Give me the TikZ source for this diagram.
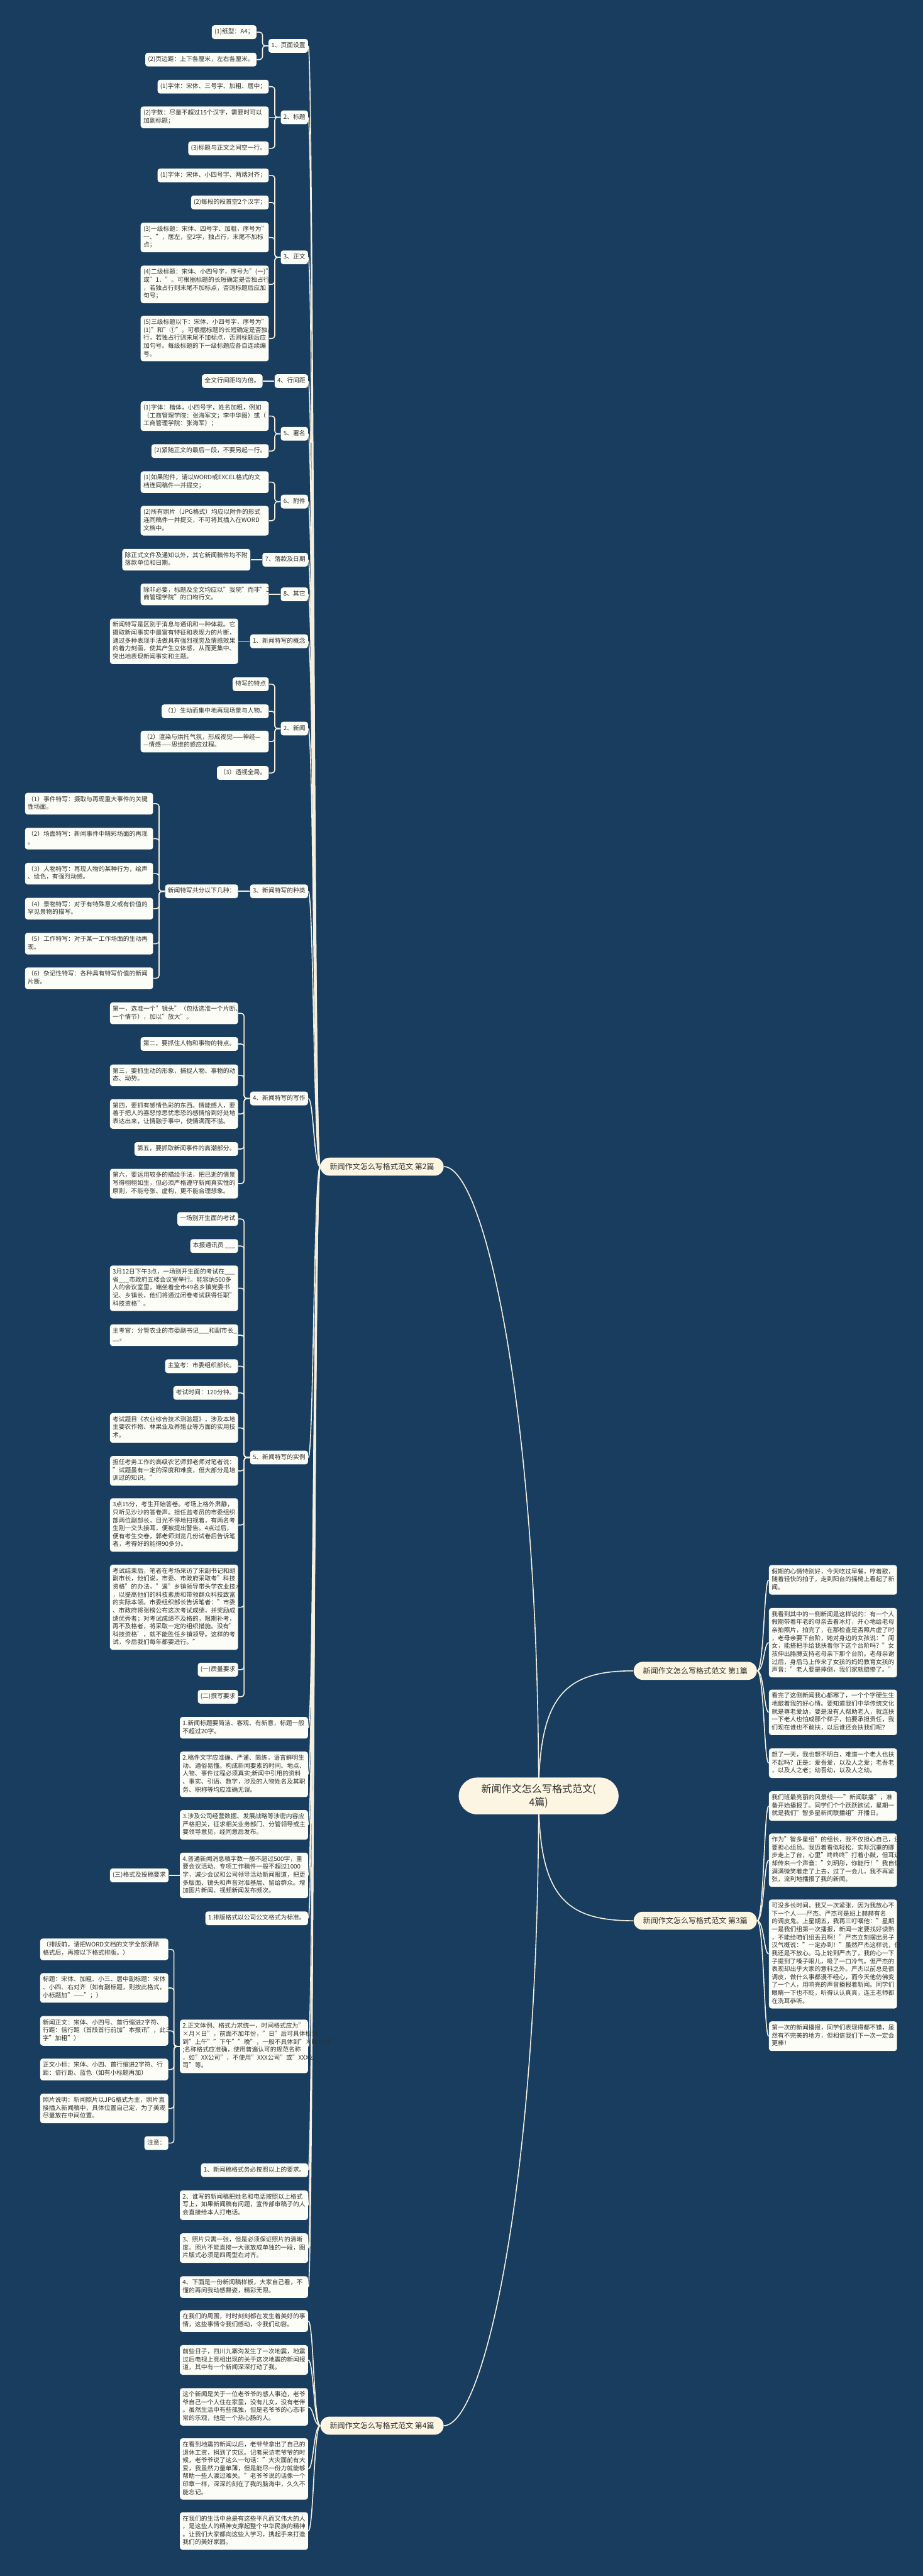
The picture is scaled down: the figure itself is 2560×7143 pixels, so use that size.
\documentclass[tikz,border=0pt]{standalone}
\usepackage{fontspec}
\setmainfont{Noto Sans CJK SC}
\usepackage{xcolor}
\usetikzlibrary{calc, positioning}
\pgfdeclarelayer{back}
\pgfdeclarelayer{bg}
\pgfsetlayers{back,bg,main}
\definecolor{deepnavy}{HTML}{183D5E}
\definecolor{cardfill}{HTML}{FDFDF7}
\definecolor{pillfill}{HTML}{FBF5E1}
\definecolor{wirecol}{HTML}{F4EFDF}
\definecolor{inkgray}{HTML}{2F2F2F}
\newcommand\leaffont{\fontsize{4.84pt}{6.26pt}\selectfont}
\newcommand\pillfont{\fontsize{5.98pt}{7.5pt}\selectfont}
\newcommand\rootfont{\fontsize{7.97pt}{10.2pt}\selectfont}
\setlength{\parindent}{0pt}

\begin{document}
\begin{tikzpicture}
  [x=0.01cm, y=-0.01cm,
   card/.style={fill=cardfill, text=inkgray, rounded corners=0.07cm, inner xsep=0.075cm, inner ysep=0.08cm, font=\leaffont, execute at begin node=\strut, execute at end node=\strut},
   wide/.style={card, text width=3.4cm, align=left},
   pill/.style={fill=pillfill, text=inkgray, rounded corners=0.25cm, inner xsep=0.26cm, minimum height=0.5cm, font=\pillfont},
   hub/.style={fill=pillfill, text=inkgray, rounded corners=0.51cm, minimum width=4.43cm, minimum height=1.02cm, align=center, font=\rootfont},
   elbow/.style={draw=wirecol, line width=0.8pt, rounded corners=0.08cm},
   sweep/.style={draw=wirecol, line width=0.8pt}]
  \useasboundingbox (0,0) rectangle (2560,7143);
  \begin{pgfonlayer}{back}
    \fill[deepnavy] (0,0) rectangle (2560,7143);
  \end{pgfonlayer}

  % nodes %
  \node[hub] (root) at (1494,4980) {新闻作文怎么写格式范文(\\4篇)};
  \node[pill, anchor=west] (sec2) at (888,3235) {新闻作文怎么写格式范文 第2篇};
  \node[pill, anchor=east] (sec1) at (2100,4633) {新闻作文怎么写格式范文 第1篇};
  \node[pill, anchor=east] (sec3) at (2100,5326) {新闻作文怎么写格式范文 第3篇};
  \node[pill, anchor=west] (sec4) at (888,6726) {新闻作文怎么写格式范文 第4篇};

  % second article, left
  \node[card, left=0.33cm of sec2, yshift=31.06cm] (p1) {1、页面设置};
  \node[card, left=0.33cm of sec2, yshift=29.08cm] (p2) {2、标题};
  \node[card, left=0.33cm of sec2, yshift=25.20cm] (p3) {3、正文};
  \node[card, left=0.33cm of sec2, yshift=21.77cm] (p4) {4、行间距};
  \node[card, left=0.33cm of sec2, yshift=20.31cm] (p5) {5、署名};
  \node[card, left=0.33cm of sec2, yshift=18.43cm] (p6) {6、附件};
  \node[card, left=0.33cm of sec2, yshift=16.82cm] (p7) {7、落款及日期};
  \node[card, left=0.33cm of sec2, yshift=15.86cm] (p8) {8、其它};
  \node[card, left=0.33cm of sec2, yshift=14.56cm] (q1) {1、新闻特写的概念};
  \node[card, left=0.33cm of sec2, yshift=12.14cm] (q2) {2、新闻};
  \node[card, left=0.33cm of sec2, yshift=7.63cm] (q3) {3、新闻特写的种类};
  \node[card, left=0.33cm of sec2, yshift=1.89cm] (q4) {4、新闻特写的写作};
  \node[card, left=0.33cm of sec2, yshift=-8.06cm] (q5) {5、新闻特写的实例};
  \node[wide, left=0.33cm of sec2, yshift=-15.55cm] (r1) {1.新闻标题要简洁、客观、有新意，标题一般\\不超过20字。};
  \node[wide, left=0.33cm of sec2, yshift=-16.84cm] (r2) {2.稿件文字应准确、严谨、简练，语言鲜明生\\动、通俗易懂。构成新闻要素的时间、地点、\\人物、事件过程必须真实;新闻中引用的资料\\、事实、引语、数字，涉及的人物姓名及其职\\务、职称等均应准确无误。};
  \node[wide, left=0.33cm of sec2, yshift=-18.24cm] (r3) {3.涉及公司经营数据、发展战略等涉密内容应\\严格把关，征求相关业务部门、分管领导或主\\要领导意见，经同意后发布。};
  \node[wide, left=0.33cm of sec2, yshift=-19.64cm] (r4) {4.普通新闻消息稿字数一般不超过500字，重\\要会议活动、专项工作稿件一般不超过1000\\字，减少会议和公司领导活动新闻报道，把更\\多版面、镜头和声音对准基层、留给群众。增\\加图片新闻、视频新闻发布频次。};
  \node[card, left=0.33cm of sec2, yshift=-20.83cm] (r5) {1.排版格式以公司公文格式为标准。};
  \node[wide, left=0.33cm of sec2, yshift=-24.38cm] (r6) {2.正文体例、格式力求统一，时间格式应为"\\×月×日"，前面不加年份，"日"后可具体标识\\到"上午""下午""晚"，一般不具体到"×时×分"\\;名称格式应准确，使用普遍认可的规范名称\\，如"XX公司"，不使用"XXX公司"或"XXX公\\司"等。};
  \node[card, left=0.33cm of sec2, yshift=-27.81cm] (r7) {1、新闻稿格式务必按照以上的要求。};
  \node[wide, left=0.33cm of sec2, yshift=-28.78cm] (r8) {2、谁写的新闻稿把姓名和电话按照以上格式\\写上，如果新闻稿有问题，宣传部审稿子的人\\会直接给本人打电话。};
  \node[wide, left=0.33cm of sec2, yshift=-29.97cm] (r9) {3、照片只需一张，但是必须保证照片的清晰\\度。照片不能直接一大张放成单独的一段，图\\片版式必须是四周型右对齐。};
  \node[wide, left=0.33cm of sec2, yshift=-31.05cm] (r10) {4、下面是一份新闻稿样板，大家自己看，不\\懂的再问我动感舞姿，精彩无限。};

  \node[card, left=0.32cm of p1, yshift=0.38cm] (p1a) {(1)纸型：A4；};
  \node[card, left=0.32cm of p1, yshift=-0.38cm] (p1b) {(2)页边距：上下各厘米，左右各厘米。};
  \node[card, left=0.32cm of p2, yshift=0.85cm] (p2a) {(1)字体：宋体、三号字、加粗、居中；};
  \node[wide, left=0.32cm of p2] (p2b) {(2)字数：尽量不超过15个汉字，需要时可以\\加副标题；};
  \node[card, left=0.32cm of p2, yshift=-0.86cm] (p2c) {(3)标题与正文之间空一行。};
  \node[card, left=0.32cm of p3, yshift=2.27cm] (p3a) {(1)字体：宋体、小四号字、两端对齐；};
  \node[card, left=0.32cm of p3, yshift=1.52cm] (p3b) {(2)每段的段首空2个汉字；};
  \node[wide, left=0.32cm of p3, yshift=0.55cm] (p3c) {(3)一级标题：宋体、四号字、加粗，序号为"\\一、"，居左，空2字，独占行，末尾不加标\\点；};
  \node[wide, left=0.32cm of p3, yshift=-0.75cm] (p3d) {(4)二级标题：宋体、小四号字，序号为"(一)"\\或"1．"。可根据标题的长短确定是否独占行\\，若独占行则末尾不加标点，否则标题后应加\\句号；};
  \node[wide, left=0.32cm of p3, yshift=-2.25cm] (p3e) {(5)三级标题以下：宋体、小四号字，序号为"\\(1)"和"①"。可根据标题的长短确定是否独占\\行，若独占行则末尾不加标点，否则标题后应\\加句号。每级标题的下一级标题应各自连续编\\号。};
  \node[card, left=0.32cm of p4] (p4a) {全文行间距均为倍。};
  \node[wide, left=0.32cm of p5, yshift=0.49cm] (p5a) {(1)字体：楷体，小四号字，姓名加粗，例如\\（工商管理学院：张海军文；李中华图）或（\\工商管理学院：张海军）；};
  \node[card, left=0.32cm of p5, yshift=-0.48cm] (p5b) {(2)紧随正文的最后一段，不要另起一行。};
  \node[wide, left=0.32cm of p6, yshift=0.54cm] (p6a) {(1)如果附件，请以WORD或EXCEL格式的文\\档连同稿件一并提交；};
  \node[wide, left=0.32cm of p6, yshift=-0.53cm] (p6b) {(2)所有照片（JPG格式）均应以附件的形式\\连同稿件一并提交，不可将其插入在WORD\\文档中。};
  \node[wide, left=0.32cm of p7] (p7a) {除正式文件及通知以外，其它新闻稿件均不附\\落款单位和日期。};
  \node[wide, left=0.32cm of p8] (p8a) {除非必要，标题及全文均应以"我院"而非"工\\商管理学院"的口吻行文。};
  \node[wide, left=0.32cm of q1] (q1a) {新闻特写是区别于消息与通讯和一种体裁。它\\摄取新闻事实中最富有特征和表现力的片断，\\通过多种表现手法做具有强烈视觉及情感效果\\的着力刻画，使其产生立体感，从而更集中、\\突出地表现新闻事实和主题。};
  \node[card, left=0.32cm of q2, yshift=1.23cm] (q2a) {特写的特点};
  \node[card, left=0.32cm of q2, yshift=0.48cm] (q2b) {（1）生动而集中地再现场景与人物。};
  \node[wide, left=0.32cm of q2, yshift=-0.36cm] (q2c) {（2）渲染与烘托气氛，形成视觉——神经—\\—情感——思维的感应过程。};
  \node[card, left=0.32cm of q2, yshift=-1.23cm] (q2d) {（3）透视全局。};
  \node[card, left=0.32cm of q3] (q3a) {新闻特写共分以下几种：};
  \node[wide, left=0.32cm of q3a, yshift=2.43cm] (t1) {（1）事件特写：摄取与再现重大事件的关键\\性场面。};
  \node[wide, left=0.32cm of q3a, yshift=1.46cm] (t2) {（2）场面特写：新闻事件中精彩场面的再现\\。};
  \node[wide, left=0.32cm of q3a, yshift=0.49cm] (t3) {（3）人物特写：再现人物的某种行为，绘声\\、绘色，有强烈动感。};
  \node[wide, left=0.32cm of q3a, yshift=-0.48cm] (t4) {（4）景物特写：对于有特殊意义或有价值的\\罕见景物的描写。};
  \node[wide, left=0.32cm of q3a, yshift=-1.45cm] (t5) {（5）工作特写：对于某一工作场面的生动再\\现。};
  \node[wide, left=0.32cm of q3a, yshift=-2.41cm] (t6) {（6）杂记性特写：各种具有特写价值的新闻\\片断。};
  \node[wide, left=0.32cm of q4, yshift=2.36cm] (w1) {第一，选准一个"镜头"（包括选准一个片断、\\一个情节），加以"放大"。};
  \node[card, left=0.32cm of q4, yshift=1.51cm] (w2) {第二，要抓住人物和事物的特点。};
  \node[wide, left=0.32cm of q4, yshift=0.64cm] (w3) {第三，要抓生动的形象，捕捉人物、事物的动\\态、动势。};
  \node[wide, left=0.32cm of q4, yshift=-0.43cm] (w4) {第四，要抓有感情色彩的东西。情能感人，要\\善于把人的喜怒惊思忧悲恐的感情恰到好处地\\表达出来，让情融于事中，使情满而不溢。};
  \node[card, left=0.32cm of q4, yshift=-1.40cm] (w5) {第五，要抓取新闻事件的高潮部分。};
  \node[wide, left=0.32cm of q4, yshift=-2.36cm] (w6) {第六，要运用较多的描绘手法，把已逝的情景\\写得栩栩如生，但必须严格遵守新闻真实性的\\原则，不能夸张、虚构，更不能合理想象。};
  \node[card, left=0.32cm of q5, yshift=6.61cm] (e1) {一场别开生面的考试};
  \node[card, left=0.32cm of q5, yshift=5.86cm] (e2) {本报通讯员 \_\_\_};
  \node[wide, left=0.32cm of q5, yshift=4.69cm] (e3) {3月12日下午3点，一场别开生面的考试在\_\_\_\\省\_\_\_市政府五楼会议室举行。能容纳500多\\人的会议室里，端坐着全市49名乡镇党委书\\记、乡镇长，他们将通过闭卷考试获得任职"\\科技资格"。};
  \node[wide, left=0.32cm of q5, yshift=3.39cm] (e4) {主考官：分管农业的市委副书记\_\_\_和副市长\_\\\_\_。};
  \node[card, left=0.32cm of q5, yshift=2.53cm] (e5) {主监考：市委组织部长。};
  \node[card, left=0.32cm of q5, yshift=1.79cm] (e6) {考试时间：120分钟。};
  \node[wide, left=0.32cm of q5, yshift=0.82cm] (e7) {考试题目《农业综合技术测验题》，涉及本地\\主要农作物、林果业及养殖业等方面的实用技\\术。};
  \node[wide, left=0.32cm of q5, yshift=-0.37cm] (e8) {担任考务工作的高级农艺师郭老师对笔者说：\\"试题虽有一定的深度和难度，但大部分是培\\训过的知识。"};
  \node[wide, left=0.32cm of q5, yshift=-1.87cm] (e9) {3点15分，考生开始答卷。考场上格外肃静，\\只听见沙沙的答卷声。担任监考员的市委组织\\部两位副部长，目光不停地扫视着，有两名考\\生刚一交头接耳，便被提出警告。4点过后，\\便有考生交卷，郭老师浏览几份试卷后告诉笔\\者，考得好的能得90多分。};
  \node[wide, left=0.32cm of q5, yshift=-4.15cm] (e10) {考试结束后，笔者在考场采访了宋副书记和胡\\副市长，他们说，市委、市政府采取考"科技\\资格"的办法，"逼"乡镇领导带头学农业技术\\，以提高他们的科技素质和带领群众科技致富\\的实际本领。市委组织部长告诉笔者："市委\\、市政府将张榜公布这次考试成绩，并奖励成\\绩优秀者；对考试成绩不及格的，限期补考，\\再不及格者，将采取一定的组织措施。没有'\\科技资格'，就不能胜任乡镇领导。这样的考\\试，今后我们每年都要进行。"};
  \node[card, left=0.32cm of q5, yshift=-5.88cm] (e11) {(一)质量要求};
  \node[card, left=0.32cm of q5, yshift=-6.63cm] (e12) {(二)撰写要求};
  \node[card, left=0.30cm of r4] (r4a) {(三)格式及投稿要求};
  \node[wide, left=0.31cm of r6, yshift=2.69cm] (f1) {（排版前，请把WORD文档的文字全部清除\\格式后，再按以下格式排版。）};
  \node[wide, left=0.31cm of r6, yshift=1.62cm] (f2) {标题：宋体、加粗、小三、居中副标题：宋体\\、小四、右对齐（如有副标题，则按此格式，\\小标题加"——"；）};
  \node[wide, left=0.31cm of r6, yshift=0.43cm] (f3) {新闻正文：宋体、小四号、首行缩进2字符、\\行距：倍行距（首段首行前加"本报讯"，此三\\字"加粗"）};
  \node[wide, left=0.31cm of r6, yshift=-0.64cm] (f4) {正文小标：宋体、小四、首行缩进2字符、行\\距：倍行距、蓝色（如有小标题再加）};
  \node[wide, left=0.31cm of r6, yshift=-1.72cm] (f5) {照片说明：新闻照片以JPG格式为主，照片直\\接插入新闻稿中，具体位置自己定，为了美观\\尽量放在中间位置。};
  \node[card, left=0.31cm of r6, yshift=-2.68cm] (f6) {注意：};

  % fourth article, left
  \node[wide, left=0.33cm of sec4, yshift=2.90cm] (g1) {在我们的周围，时时刻刻都在发生着美好的事\\情，这些事情令我们感动，令我们动容。};
  \node[wide, left=0.33cm of sec4, yshift=1.82cm] (g2) {前些日子，四川九寨沟发生了一次地震，地震\\过后电视上竞相出现的关于这次地震的新闻报\\道，其中有一个新闻深深打动了我。};
  \node[wide, left=0.33cm of sec4, yshift=0.52cm] (g3) {这个新闻是关于一位老爷爷的感人事迹，老爷\\爷自己一个人住在家里，没有儿女，没有老伴\\。虽然生活中有些孤独，但是老爷爷的心态非\\常的乐观，他是一个热心肠的人。};
  \node[wide, left=0.33cm of sec4, yshift=-1.20cm] (g4) {在看到地震的新闻以后，老爷爷拿出了自己的\\退休工资，捐到了灾区。记者采访老爷爷的时\\候，老爷爷说了这么一句话："大灾面前有大\\爱，我虽然力量单薄，但是能尽一份力就能够\\帮助一些人渡过难关。"老爷爷说的话像一个\\印章一样，深深的刻在了我的脑海中，久久不\\能忘记。};
  \node[wide, left=0.33cm of sec4, yshift=-2.92cm] (g5) {在我们的生活中总是有这些平凡而又伟大的人\\，是这些人的精神支撑起整个中华民族的精神\\。让我们大家都向这些人学习，携起手来打造\\我们的美好家园。};

  % first and third article, right
  \node[wide, right=0.32cm of sec1, yshift=2.52cm] (h1) {假期的心情特别好，今天吃过早餐，哼着歌，\\随着轻快的拍子，走到阳台的摇椅上看起了新\\闻。};
  \node[wide, right=0.32cm of sec1, yshift=0.78cm] (h2) {我看到其中的一侧新闻是这样说的：有一个人\\假期带着年老的母亲去看冰灯，开心地给老母\\亲拍照片，拍完了，在那检查是否照片虚了时\\，老母亲要下台阶，她对身边的女孩说："闺\\女，能搭把手给我扶着你下这个台阶吗？"女\\孩伸出胳膊支持老母亲下那个台阶。老母亲谢\\过后，身后马上传来了女孩的妈妈教育女孩的\\声音："老人要是摔倒，我们家就赔惨了。"};
  \node[wide, right=0.32cm of sec1, yshift=-1.15cm] (h3) {看完了这侧新闻我心都寒了，一个个字硬生生\\地敲着我的好心情。要知道我们中华传统文化\\就是尊老爱幼，要是没有人帮助老人，就连扶\\一下老人也怕成那个样子，怕要承担责任，我\\们现在谁也不敢扶，以后谁还会扶我们呢？};
  \node[wide, right=0.32cm of sec1, yshift=-2.56cm] (h4) {想了一天，我也想不明白，难道一个老人也扶\\不起吗？正是：爱吾爱，以及人之爱；老吾老\\，以及人之老；幼吾幼，以及人之幼。};
  \node[wide, right=0.32cm of sec3, yshift=3.18cm] (k1) {我们班最亮丽的风景线——"新闻联播"，准\\备开始播报了。同学们个个跃跃欲试，星期一\\就是我们"智多星新闻联播组"开播日。};
  \node[wide, right=0.32cm of sec3, yshift=1.68cm] (k2) {作为"智多星组"的组长，我不仅担心自己，还\\要担心组员。我迈着看似轻松，实际沉重的脚\\步走上了台，心里"咚咚咚"打着小鼓，但耳边\\却传来一个声音："刘玥彤，你能行！"我自信\\满满微笑着走了上去，过了一会儿，我不再紧\\张，流利地播报了我的新闻。};
  \node[wide, right=0.32cm of sec3, yshift=-0.92cm] (k3) {可没多长时间，我又一次紧张，因为我放心不\\下一个人——严杰。严杰可是班上赫赫有名\\的调皮鬼。上星期五，我再三叮嘱他："星期\\一是我们组第一次播报，新闻一定要找好读熟\\，不能给咱们组丢丑啊！"严杰立刻摆出男子\\汉气概说："一定办到！"虽然严杰这样说，但\\我还是不放心。马上轮到严杰了，我的心一下\\子提到了嗓子眼儿，吸了一口冷气。但严杰的\\表现却出乎大家的意料之外。严杰以前总是很\\调皮，做什么事都漫不经心，而今天他仿佛变\\了一个人，用响亮的声音播报着新闻。同学们\\眼睛一下也不眨，听得认认真真，连王老师都\\在洗耳恭听。};
  \node[wide, right=0.32cm of sec3, yshift=-3.20cm] (k4) {第一次的新闻播报，同学们表现得都不错，虽\\然有不完美的地方，但相信我们下一次一定会\\更棒！};

  % edges %
  \begin{pgfonlayer}{bg}
  \draw[sweep] (root.center) .. controls +(0,-1080) and +(111,0) .. (sec2.east);
  \draw[sweep] (root.center) .. controls +(0,1080) and +(111,0) .. (sec4.east);
  \draw[sweep] (root.center) .. controls +(0,-280) and +(-188,0) .. (sec1.west);
  \draw[sweep] (root.center) .. controls +(0,280) and +(-188,0) .. (sec3.west);

  \draw[sweep] (sec2.west) .. controls +(-18,0) and +(15,0) .. (p1.east);
  \draw[sweep] (sec2.west) .. controls +(-18,0) and +(15,0) .. (p2.east);
  \draw[sweep] (sec2.west) .. controls +(-18,0) and +(15,0) .. (p3.east);
  \draw[sweep] (sec2.west) .. controls +(-18,0) and +(15,0) .. (p4.east);
  \draw[sweep] (sec2.west) .. controls +(-18,0) and +(15,0) .. (p5.east);
  \draw[sweep] (sec2.west) .. controls +(-18,0) and +(15,0) .. (p6.east);
  \draw[sweep] (sec2.west) .. controls +(-18,0) and +(15,0) .. (p7.east);
  \draw[sweep] (sec2.west) .. controls +(-18,0) and +(15,0) .. (p8.east);
  \draw[sweep] (sec2.west) .. controls +(-18,0) and +(15,0) .. (q1.east);
  \draw[sweep] (sec2.west) .. controls +(-18,0) and +(15,0) .. (q2.east);
  \draw[sweep] (sec2.west) .. controls +(-18,0) and +(15,0) .. (q3.east);
  \draw[sweep] (sec2.west) .. controls +(-18,0) and +(15,0) .. (q4.east);
  \draw[sweep] (sec2.west) .. controls +(-18,0) and +(15,0) .. (q5.east);
  \draw[sweep] (sec2.west) .. controls +(-18,0) and +(15,0) .. (r1.east);
  \draw[sweep] (sec2.west) .. controls +(-18,0) and +(15,0) .. (r2.east);
  \draw[sweep] (sec2.west) .. controls +(-18,0) and +(15,0) .. (r3.east);
  \draw[sweep] (sec2.west) .. controls +(-18,0) and +(15,0) .. (r4.east);
  \draw[sweep] (sec2.west) .. controls +(-18,0) and +(15,0) .. (r5.east);
  \draw[sweep] (sec2.west) .. controls +(-18,0) and +(15,0) .. (r6.east);
  \draw[sweep] (sec2.west) .. controls +(-18,0) and +(15,0) .. (r7.east);
  \draw[sweep] (sec2.west) .. controls +(-18,0) and +(15,0) .. (r8.east);
  \draw[sweep] (sec2.west) .. controls +(-18,0) and +(15,0) .. (r9.east);
  \draw[sweep] (sec2.west) .. controls +(-18,0) and +(15,0) .. (r10.east);

  \draw[sweep] (sec4.west) .. controls +(-18,0) and +(15,0) .. (g1.east);
  \draw[sweep] (sec4.west) .. controls +(-18,0) and +(15,0) .. (g2.east);
  \draw[sweep] (sec4.west) .. controls +(-18,0) and +(15,0) .. (g3.east);
  \draw[sweep] (sec4.west) .. controls +(-18,0) and +(15,0) .. (g4.east);
  \draw[sweep] (sec4.west) .. controls +(-18,0) and +(15,0) .. (g5.east);

  \draw[sweep] (sec1.east) .. controls +(19,0) and +(-13,0) .. (h1.west);
  \draw[sweep] (sec1.east) .. controls +(19,0) and +(-13,0) .. (h2.west);
  \draw[sweep] (sec1.east) .. controls +(19,0) and +(-13,0) .. (h3.west);
  \draw[sweep] (sec1.east) .. controls +(19,0) and +(-13,0) .. (h4.west);
  \draw[sweep] (sec3.east) .. controls +(19,0) and +(-13,0) .. (k1.west);
  \draw[sweep] (sec3.east) .. controls +(19,0) and +(-13,0) .. (k2.west);
  \draw[sweep] (sec3.east) .. controls +(19,0) and +(-13,0) .. (k3.west);
  \draw[sweep] (sec3.east) .. controls +(19,0) and +(-13,0) .. (k4.west);

  \draw[elbow] (p1.west) -- ++(-16,0) |- (p1a.east);
  \draw[elbow] (p1.west) -- ++(-16,0) |- (p1b.east);
  \draw[elbow] (p2.west) -- ++(-16,0) |- (p2a.east);
  \draw[elbow] (p2.west) -- (p2b.east);
  \draw[elbow] (p2.west) -- ++(-16,0) |- (p2c.east);
  \draw[elbow] (p3.west) -- ++(-16,0) |- (p3a.east);
  \draw[elbow] (p3.west) -- ++(-16,0) |- (p3b.east);
  \draw[elbow] (p3.west) -- ++(-16,0) |- (p3c.east);
  \draw[elbow] (p3.west) -- ++(-16,0) |- (p3d.east);
  \draw[elbow] (p3.west) -- ++(-16,0) |- (p3e.east);
  \draw[elbow] (p4.west) -- (p4a.east);
  \draw[elbow] (p5.west) -- ++(-16,0) |- (p5a.east);
  \draw[elbow] (p5.west) -- ++(-16,0) |- (p5b.east);
  \draw[elbow] (p6.west) -- ++(-16,0) |- (p6a.east);
  \draw[elbow] (p6.west) -- ++(-16,0) |- (p6b.east);
  \draw[elbow] (p7.west) -- (p7a.east);
  \draw[elbow] (p8.west) -- (p8a.east);
  \draw[elbow] (q1.west) -- (q1a.east);
  \draw[elbow] (q2.west) -- ++(-16,0) |- (q2a.east);
  \draw[elbow] (q2.west) -- ++(-16,0) |- (q2b.east);
  \draw[elbow] (q2.west) -- ++(-16,0) |- (q2c.east);
  \draw[elbow] (q2.west) -- ++(-16,0) |- (q2d.east);
  \draw[elbow] (q3.west) -- (q3a.east);
  \draw[elbow] (q3a.west) -- ++(-16,0) |- (t1.east);
  \draw[elbow] (q3a.west) -- ++(-16,0) |- (t2.east);
  \draw[elbow] (q3a.west) -- ++(-16,0) |- (t3.east);
  \draw[elbow] (q3a.west) -- ++(-16,0) |- (t4.east);
  \draw[elbow] (q3a.west) -- ++(-16,0) |- (t5.east);
  \draw[elbow] (q3a.west) -- ++(-16,0) |- (t6.east);
  \draw[elbow] (q4.west) -- ++(-16,0) |- (w1.east);
  \draw[elbow] (q4.west) -- ++(-16,0) |- (w2.east);
  \draw[elbow] (q4.west) -- ++(-16,0) |- (w3.east);
  \draw[elbow] (q4.west) -- ++(-16,0) |- (w4.east);
  \draw[elbow] (q4.west) -- ++(-16,0) |- (w5.east);
  \draw[elbow] (q4.west) -- ++(-16,0) |- (w6.east);
  \draw[elbow] (q5.west) -- ++(-16,0) |- (e1.east);
  \draw[elbow] (q5.west) -- ++(-16,0) |- (e2.east);
  \draw[elbow] (q5.west) -- ++(-16,0) |- (e3.east);
  \draw[elbow] (q5.west) -- ++(-16,0) |- (e4.east);
  \draw[elbow] (q5.west) -- ++(-16,0) |- (e5.east);
  \draw[elbow] (q5.west) -- ++(-16,0) |- (e6.east);
  \draw[elbow] (q5.west) -- ++(-16,0) |- (e7.east);
  \draw[elbow] (q5.west) -- ++(-16,0) |- (e8.east);
  \draw[elbow] (q5.west) -- ++(-16,0) |- (e9.east);
  \draw[elbow] (q5.west) -- ++(-16,0) |- (e10.east);
  \draw[elbow] (q5.west) -- ++(-16,0) |- (e11.east);
  \draw[elbow] (q5.west) -- ++(-16,0) |- (e12.east);
  \draw[elbow] (r4.west) -- (r4a.east);
  \draw[elbow] (r6.west) -- ++(-16,0) |- (f1.east);
  \draw[elbow] (r6.west) -- ++(-16,0) |- (f2.east);
  \draw[elbow] (r6.west) -- ++(-16,0) |- (f3.east);
  \draw[elbow] (r6.west) -- ++(-16,0) |- (f4.east);
  \draw[elbow] (r6.west) -- ++(-16,0) |- (f5.east);
  \draw[elbow] (r6.west) -- ++(-16,0) |- (f6.east);
  \end{pgfonlayer}
\end{tikzpicture}
\end{document}
